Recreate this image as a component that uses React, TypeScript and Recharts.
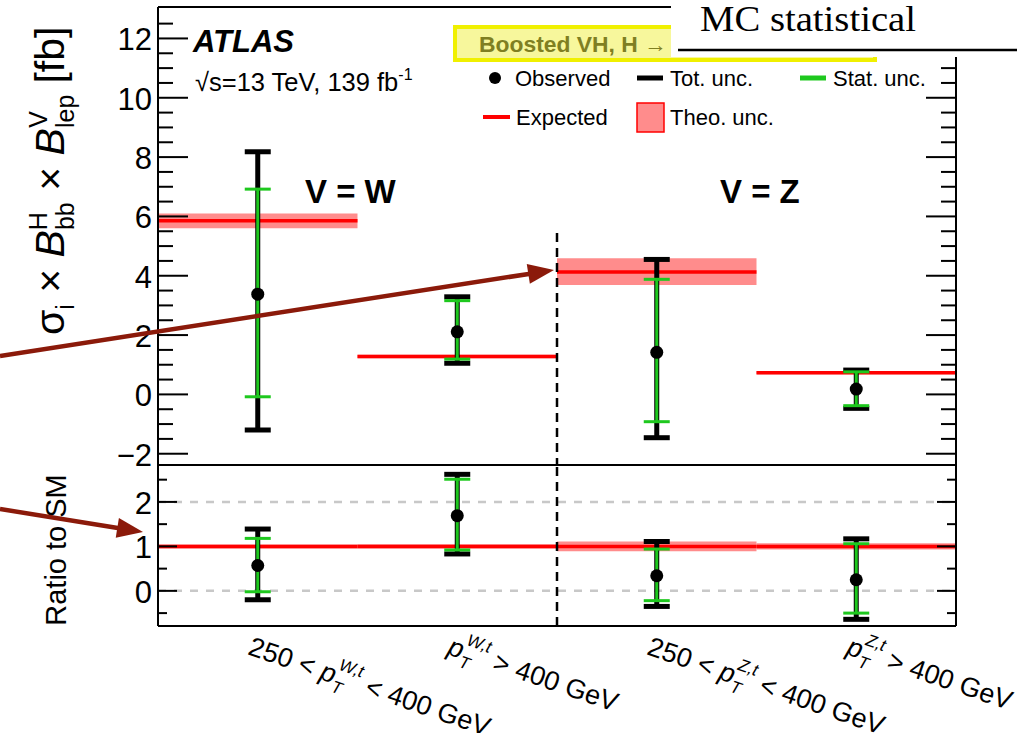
import React from 'react';
import { ComposedChart, XAxis, YAxis, Scatter, ErrorBar, ReferenceLine, ReferenceArea } from 'recharts';

const FONT = '"Liberation Sans", Arial, Helvetica, sans-serif';

// pT bins, W first then Z
const binPre = ['250 < ', '', '250 < ', ''];
const binBoson = ['W,t', 'W,t', 'Z,t', 'Z,t'];
const binPost = [' < 400 GeV', ' > 400 GeV', ' < 400 GeV', ' > 400 GeV'];
const binCenters = [0.5, 1.5, 2.5, 3.5];

// cross-section panel [fb]
const xsObs = [3.38, 2.11, 1.42, 0.18];
const xsTotLo = [-1.2, 1.05, -1.46, -0.47];
const xsTotHi = [8.18, 3.29, 4.55, 0.82];
const xsStatLo = [-0.08, 1.19, -0.92, -0.38];
const xsStatHi = [6.92, 3.16, 3.88, 0.76];
const xsExp = [5.85, 1.28, 4.13, 0.73];
const xsTheoLo = [5.6, 1.22, 3.69, 0.68];
const xsTheoHi = [6.1, 1.34, 4.59, 0.78];

// ratio to SM panel
const rObs = [0.57, 1.69, 0.34, 0.25];
const rTotLo = [-0.2, 0.83, -0.35, -0.64];
const rTotHi = [1.39, 2.62, 1.11, 1.17];
const rStatLo = [-0.02, 0.92, -0.22, -0.5];
const rStatHi = [1.18, 2.51, 0.94, 1.06];
const rTheo = [0.045, 0.05, 0.11, 0.07];

// axis ticks
const xsMajor = [-2, 0, 2, 4, 6, 8, 10, 12];
const xsMinor = [-1.5, -1, -0.5, 0.5, 1, 1.5, 2.5, 3, 3.5, 4.5, 5, 5.5, 6.5, 7, 7.5, 8.5, 9, 9.5, 10.5, 11, 11.5, 12.5];
const rMajor = [0, 1, 2];
const rMinor = [-0.5, 0.5, 1.5, 2.5];

const XS_DOMAIN: [number, number] = [-2.38, 13.06];
const R_DOMAIN: [number, number] = [-0.79, 2.83];

const GREEN = '#1ec81e';
const RED = '#ff0000';
const BAND = '#ff8c8c';
const ARROW = '#8b1a0a';

const points = (obs: number[], tl: number[], th: number[], sl: number[], sh: number[]) =>
  obs.map((v, i) => ({
    x: binCenters[i],
    y: v,
    tot: [v - tl[i], th[i] - v],
    stat: [v - sl[i], sh[i] - v],
  }));

const xsPoints = points(xsObs, xsTotLo, xsTotHi, xsStatLo, xsStatHi);
const rPoints = points(rObs, rTotLo, rTotHi, rStatLo, rStatHi);

const fmt = (v: number) => (v < 0 ? `\u2212${-v}` : `${v}`);

// inward ticks, ROOT style; labels only on the left majors
const makeTick = (side: 'left' | 'right', major: number[], big: number, small: number) => (props: any) => {
  const { x, y, payload } = props;
  const isMajor = major.includes(payload.value);
  const len = isMajor ? big : small;
  const dir = side === 'left' ? 1 : -1;
  return (
    <g>
      <line x1={x} y1={y} x2={x + dir * len} y2={y} stroke="#000" strokeWidth={2} />
      {side === 'left' && isMajor && (
        <text x={x - 6} y={y + 12} textAnchor="end" fontSize={31} fontFamily={FONT} fill="#000">
          {fmt(payload.value)}
        </text>
      )}
    </g>
  );
};

const BinLabel = (props: any) => {
  const { x, y, payload } = props;
  const i = binCenters.indexOf(payload.value);
  if (i < 0) return null;
  return (
    <text transform={`translate(${x - 11},${y + 28}) rotate(19)`} fontSize={27} fontFamily={FONT} fill="#000">
      {binPre[i]}
      <tspan fontStyle="italic">p</tspan>
      <tspan fontSize={17} fontStyle="italic" dy={8}>T</tspan>
      <tspan fontSize={17} fontStyle="italic" dx={-10} dy={-23}>{binBoson[i]}</tspan>
      <tspan dy={15}>{binPost[i]}</tspan>
    </text>
  );
};

const Dot = (p: any) => <circle cx={p.cx} cy={p.cy} r={6.5} fill="#000" />;

const frame = { stroke: '#000', strokeWidth: 2 };

const Arrow = ({ x1, y1, x2, y2 }: { x1: number; y1: number; x2: number; y2: number }) => {
  const a = Math.atan2(y2 - y1, x2 - x1);
  const len = 26;
  const hw = 10;
  const bx = x2 - len * Math.cos(a);
  const by = y2 - len * Math.sin(a);
  const nx = -Math.sin(a) * hw;
  const ny = Math.cos(a) * hw;
  return (
    <g>
      <line x1={x1} y1={y1} x2={bx + 2 * Math.cos(a)} y2={by + 2 * Math.sin(a)} stroke={ARROW} strokeWidth={4.5} />
      <polygon points={`${x2},${y2} ${bx + nx},${by + ny} ${bx - nx},${by - ny}`} fill={ARROW} />
    </g>
  );
};

export default function App() {
  return (
    <div style={{ position: 'absolute', left: 0, top: 0, width: 1017, height: 733, background: '#fff', overflow: 'hidden', fontFamily: FONT }}>
      {/* upper panel: cross sections */}
      <div style={{ position: 'absolute', left: 0, top: 0 }}>
        <ComposedChart width={1017} height={467} margin={{ top: 6, right: 60, bottom: 0, left: 98 }}>
          <XAxis dataKey="x" type="number" domain={[0, 4]} allowDataOverflow height={2} tick={false} tickLine={false} axisLine={frame} />
          <XAxis xAxisId="t" orientation="top" type="number" domain={[0, 4]} allowDataOverflow height={1} tick={false} tickLine={false} axisLine={frame} />
          <YAxis dataKey="y" type="number" domain={XS_DOMAIN} allowDataOverflow width={60} ticks={[...xsMajor, ...xsMinor]} interval={0}
            tickSize={0} tickMargin={0} tickLine={false} axisLine={frame} tick={makeTick('left', xsMajor, 30, 15)} />
          <YAxis yAxisId="r" orientation="right" type="number" domain={XS_DOMAIN} allowDataOverflow width={1} ticks={[...xsMajor, ...xsMinor]} interval={0}
            tickSize={0} tickMargin={0} tickLine={false} axisLine={frame} tick={makeTick('right', xsMajor, 30, 15)} />
          {xsExp.map((e, i) => (
            <ReferenceArea key={`b${i}`} x1={i} x2={i + 1} y1={xsTheoLo[i]} y2={xsTheoHi[i]} fill={BAND} fillOpacity={1} stroke="none" />
          ))}
          {xsExp.map((e, i) => (
            <ReferenceLine key={`e${i}`} segment={[{ x: i, y: e }, { x: i + 1, y: e }]} stroke={RED} strokeWidth={3.5} />
          ))}
          <ReferenceLine segment={[{ x: 2, y: 5.44 }, { x: 2, y: XS_DOMAIN[0] }]} stroke="#000" strokeWidth={2.5} strokeDasharray="9 6" />
          <Scatter data={xsPoints} shape={Dot} isAnimationActive={false}>
            <ErrorBar dataKey="tot" direction="y" width={13} strokeWidth={5} stroke="#000" />
            <ErrorBar dataKey="stat" direction="y" width={13} strokeWidth={3} stroke={GREEN} />
          </Scatter>
        </ComposedChart>
      </div>

      {/* lower panel: ratio to SM */}
      <div style={{ position: 'absolute', left: 0, top: 460 }}>
        <ComposedChart width={1017} height={273} margin={{ top: 4, right: 60, bottom: 0, left: 98 }}>
          <XAxis dataKey="x" type="number" domain={[0, 4]} allowDataOverflow height={107} ticks={binCenters} interval={0}
            tickSize={0} tickMargin={0} tickLine={false} axisLine={frame} tick={BinLabel} />
          <XAxis xAxisId="t" orientation="top" type="number" domain={[0, 4]} allowDataOverflow height={1} tick={false} tickLine={false} axisLine={frame} />
          <YAxis dataKey="y" type="number" domain={R_DOMAIN} allowDataOverflow width={60} ticks={[...rMajor, ...rMinor]} interval={0}
            tickSize={0} tickMargin={0} tickLine={false} axisLine={frame} tick={makeTick('left', rMajor, 19, 9)} />
          <YAxis yAxisId="r" orientation="right" type="number" domain={R_DOMAIN} allowDataOverflow width={1} ticks={[...rMajor, ...rMinor]} interval={0}
            tickSize={0} tickMargin={0} tickLine={false} axisLine={frame} tick={makeTick('right', rMajor, 19, 9)} />
          <ReferenceLine y={2} stroke="#c8c8c8" strokeWidth={2.5} strokeDasharray="8 8" />
          <ReferenceLine y={0} stroke="#c8c8c8" strokeWidth={2.5} strokeDasharray="8 8" />
          {rTheo.map((t, i) => (
            <ReferenceArea key={`rb${i}`} x1={i} x2={i + 1} y1={1 - t} y2={1 + t} fill={BAND} fillOpacity={1} stroke="none" />
          ))}
          {rTheo.map((t, i) => (
            <ReferenceLine key={`re${i}`} segment={[{ x: i, y: 1 }, { x: i + 1, y: 1 }]} stroke={RED} strokeWidth={3.5} />
          ))}
          <ReferenceLine x={2} stroke="#000" strokeWidth={2.5} strokeDasharray="9 6" />
          <Scatter data={rPoints} shape={Dot} isAnimationActive={false}>
            <ErrorBar dataKey="tot" direction="y" width={13} strokeWidth={5} stroke="#000" />
            <ErrorBar dataKey="stat" direction="y" width={13} strokeWidth={3} stroke={GREEN} />
          </Scatter>
        </ComposedChart>
      </div>

      {/* titles, legend and annotations */}
      <svg width={1017} height={733} style={{ position: 'absolute', left: 0, top: 0, pointerEvents: 'none' }} fontFamily={FONT}>
        <text transform="translate(64,335) rotate(-90)" fontSize={41} fill="#000">
          σ<tspan fontSize={25} dy={10}>i</tspan>
          <tspan dy={-10}>{' \u00d7 '}</tspan>
          <tspan fontStyle="italic">B</tspan>
          <tspan fontSize={25} dy={10}>bb</tspan>
          <tspan fontSize={25} dx={-28} dy={-27}>H</tspan>
          <tspan dx={10} dy={17}>{' \u00d7 '}</tspan>
          <tspan fontStyle="italic">B</tspan>
          <tspan fontSize={25} dy={10}>lep</tspan>
          <tspan fontSize={25} dx={-33} dy={-27}>V</tspan>
          <tspan dx={16} dy={17}>{' [fb]'}</tspan>
        </text>
        <text transform="translate(66,550) rotate(-90)" textAnchor="middle" fontSize={29} fill="#000">Ratio to SM</text>

        <text x={193} y={52} fontSize={31} fontWeight="bold" fontStyle="italic" fill="#000">ATLAS</text>
        <text x={195} y={91} fontSize={25.5} fill="#000">
          √s=13 TeV, 139 fb<tspan fontSize={16} dy={-11}>-1</tspan>
        </text>
        <text x={305} y={203} fontSize={33} fontWeight="bold" fill="#000">V = W</text>
        <text x={720} y={203} fontSize={33} fontWeight="bold" fill="#000">V = Z</text>

        {/* legend */}
        <circle cx={495} cy={78} r={6} fill="#000" />
        <text x={515} y={86} fontSize={22} fill="#000">Observed</text>
        <line x1={637} y1={78} x2={663} y2={78} stroke="#000" strokeWidth={5} />
        <text x={670} y={86} fontSize={22} fill="#000">Tot. unc.</text>
        <line x1={800} y1={78} x2={826} y2={78} stroke={GREEN} strokeWidth={5} />
        <text x={833} y={86} fontSize={22} fill="#000">Stat. unc.</text>
        <line x1={483} y1={117} x2={510} y2={117} stroke={RED} strokeWidth={4} />
        <text x={516} y={125} fontSize={22} fill="#000">Expected</text>
        <rect x={637} y={103} width={27} height={29} fill={BAND} stroke={RED} strokeWidth={1.5} />
        <text x={670} y={125} fontSize={22} fill="#000">Theo. unc.</text>

        {/* highlighted caption */}
        <rect x={455} y={27} width={420} height={33} fill="#f7f79c" stroke="#f0f000" strokeWidth={4} />
        <text x={479} y={52} fontSize={22} fontWeight="bold" fill="#7f7f22" textLength={188} lengthAdjust="spacingAndGlyphs">Boosted VH, H →</text>
        <rect x={671} y={0} width={346} height={57} fill="#fff" />
        <line x1={678} y1={50} x2={1017} y2={50} stroke="#000" strokeWidth={2.5} />
        <text x={700} y={31} fontSize={35} fontFamily='"Liberation Serif", "Times New Roman", serif' textLength={216} lengthAdjust="spacingAndGlyphs" fill="#000">
          MC statistical
        </text>

        <Arrow x1={0} y1={356} x2={554} y2={270} />
        <Arrow x1={0} y1={509} x2={143} y2={532} />
      </svg>
    </div>
  );
}
